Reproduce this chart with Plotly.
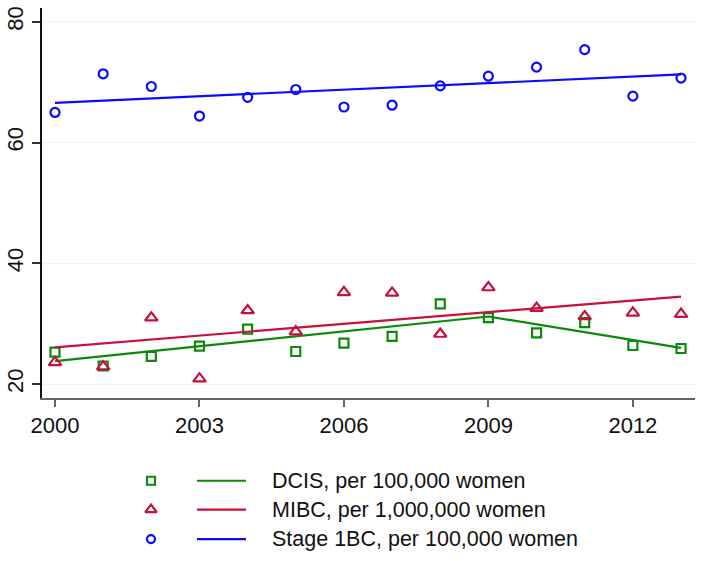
import plotly.graph_objects as go

years = list(range(2000, 2014))
dcis = [25.3, 23.0, 24.6, 26.3, 29.1, 25.4, 26.8, 27.9, 33.3, 31.0, 28.5, 30.2, 26.4, 25.9]
mibc = [23.6, 22.9, 31.0, 20.9, 32.2, 28.7, 35.2, 35.1, 28.3, 36.0, 32.6, 31.2, 31.8, 31.6]
stage1 = [65.0, 71.4, 69.3, 64.4, 67.5, 68.8, 65.9, 66.2, 69.4, 71.0, 72.5, 75.4, 67.7, 70.7]

# fitted trend (joinpoint) values
dcis_fit_years = [2000, 2009, 2013]
dcis_fit = [23.8, 31.2, 26.0]
mibc_fit_years = [2000, 2013]
mibc_fit = [26.1, 34.5]
stage1_fit_years = [2000, 2013]
stage1_fit = [66.6, 71.3]

labels = ["DCIS, per 100,000 women", "MIBC, per 1,000,000 women", "Stage 1BC, per 100,000 women"]
colors = ["#0a8a0a", "#c8103c", "#0a0aff"]
symbols = ["square-open", "triangle-up-open", "circle-open"]
msizes = [9, 11, 9]

x_ticks = [2000, 2003, 2006, 2009, 2012]
y_ticks = [20, 40, 60, 80]

W, H = 704, 561
mt, ml, mr = 8, 42, 9
plot_bottom = 398
ydom0 = (H - plot_bottom) / (H - mt)

fig = go.Figure()
series = [(dcis, dcis_fit_years, dcis_fit), (mibc, mibc_fit_years, mibc_fit), (stage1, stage1_fit_years, stage1_fit)]
for i, (vals, fy, fv) in enumerate(series):
    fig.add_trace(go.Scatter(x=years, y=vals, mode="markers",
                             marker=dict(symbol=symbols[i], size=msizes[i], color=colors[i],
                                         line=dict(width=2.2, color=colors[i])),
                             showlegend=False, hoverinfo="skip"))
    fig.add_trace(go.Scatter(x=fy, y=fv, mode="lines", line=dict(color=colors[i], width=2.2),
                             showlegend=False, hoverinfo="skip"))

# custom legend in a hidden axis (pixel coordinates)
leg_rows = [480.5, 509.5, 539]
for i in range(3):
    fig.add_trace(go.Scatter(x=[151], y=[leg_rows[i]], xaxis="x2", yaxis="y2", mode="markers",
                             marker=dict(symbol=symbols[i], size=msizes[i] - 1, color=colors[i],
                                         line=dict(width=2.2, color=colors[i])),
                             showlegend=False, hoverinfo="skip"))
    fig.add_trace(go.Scatter(x=[197, 246], y=[leg_rows[i], leg_rows[i]], xaxis="x2", yaxis="y2",
                             mode="lines", line=dict(color=colors[i], width=2.2),
                             showlegend=False, hoverinfo="skip"))
    fig.add_annotation(x=270, y=leg_rows[i], xref="x2", yref="y2", text=labels[i], showarrow=False,
                       xanchor="left", yanchor="middle",
                       font=dict(family="Liberation Sans, Arial", size=21.5, color="#111111"))

fig.update_layout(
    width=W, height=H,
    margin=dict(l=ml, r=mr, t=mt, b=0),
    paper_bgcolor="white", plot_bgcolor="white",
    font=dict(family="Liberation Sans, Arial", size=22, color="#111111"),
    xaxis=dict(domain=[0, 1], range=[1999.73, 2013.29], tickmode="array", tickvals=x_ticks,
               ticktext=[str(t) for t in x_ticks], showgrid=False, zeroline=False,
               showline=True, linecolor="#666666", linewidth=1.5, ticks="outside", ticklen=7,
               tickcolor="#666666", tickwidth=1.5, anchor="y", automargin=False,
               tickfont=dict(size=22)),
    yaxis=dict(domain=[ydom0, 1], range=[17.7, 82.3], tickmode="array", tickvals=y_ticks,
               ticktext=[str(t) for t in y_ticks], showgrid=True, gridcolor="#edf2f4",
               gridwidth=1, zeroline=False, showline=True, linecolor="#111111", linewidth=1.5,
               ticks="outside", ticklen=8, tickcolor="#333333", tickwidth=1.5, tickangle=-90,
               anchor="x", automargin=False, tickfont=dict(size=22)),
    xaxis2=dict(domain=[0, 1], range=[ml, W - mr], visible=False, anchor="y2", fixedrange=True,
                automargin=False),
    yaxis2=dict(domain=[0, ydom0 - 0.001], range=[H, plot_bottom], visible=False, anchor="x2",
                fixedrange=True, automargin=False),
)

fig.write_html("out.html", config={"displayModeBar": False},
               post_script="document.body.style.margin='0';document.body.style.overflow='hidden';")
